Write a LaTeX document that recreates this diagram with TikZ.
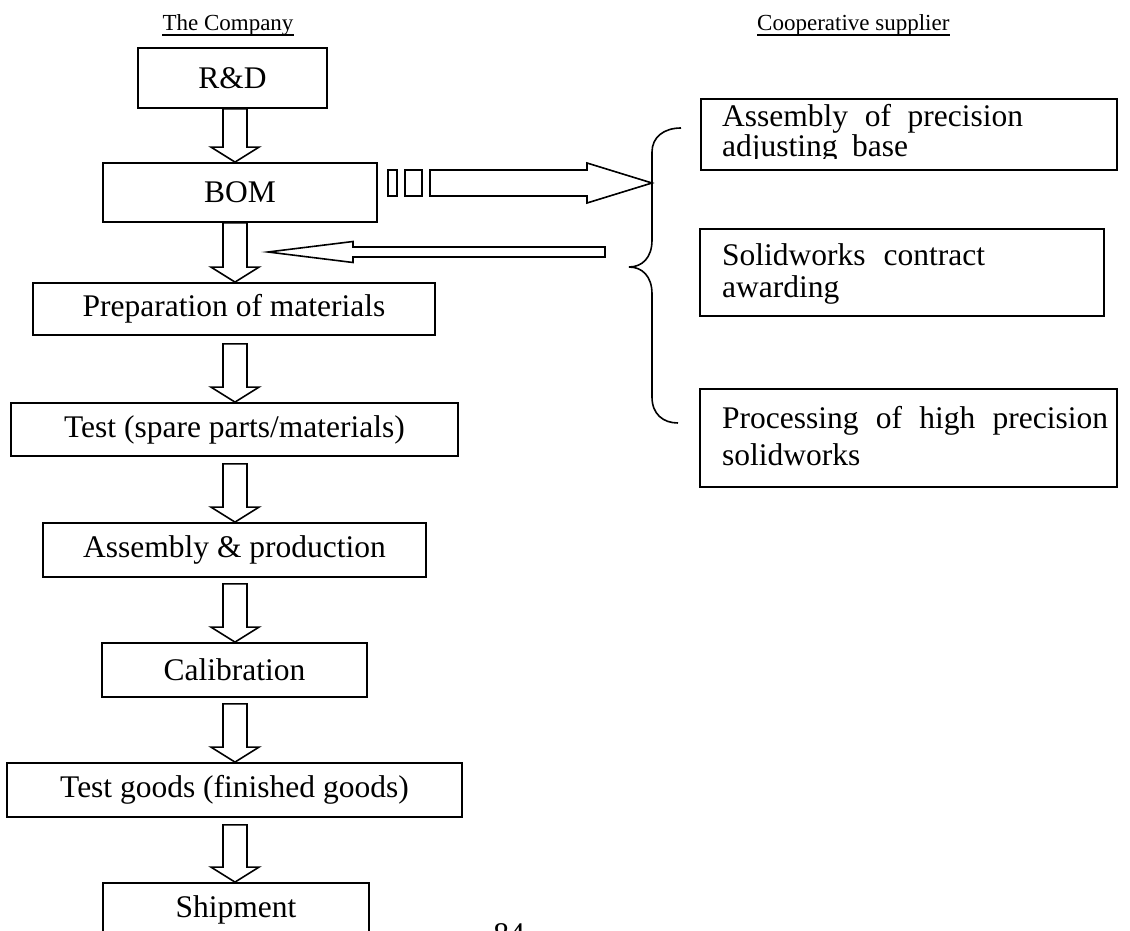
\documentclass[tikz,border=0pt]{standalone}
\usepackage{fontspec}
\setmainfont{Liberation Serif}
\usetikzlibrary{calc}
\newcommand\bdfont{\fontsize{31.5}{36}\selectfont}
\newcommand\hdfont{\fontsize{23}{28}\selectfont}
\begin{document}
\begin{tikzpicture}[x=1pt,y=-1pt,
  box/.style={draw,line width=1.8pt,inner sep=0pt,font=\bdfont,align=center},
  rbox/.style={draw,line width=1.8pt,inner sep=0pt},
  flow/.style={draw,line width=1.6pt,fill=white,line join=miter},
  hdr/.style={font=\hdfont,inner sep=0pt,anchor=base},
  txt/.style={font=\bdfont,inner sep=0pt,anchor=base west},
  brace/.style={draw,line width=1.6pt}]
\useasboundingbox (0,0) rectangle (1130,931);
% headers
\node[hdr] (hco) at (228,31) {The Company};
\draw[line width=1.5pt] ([yshift=-4pt]hco.base west) -- ([yshift=-4pt]hco.base east);
\node[hdr,anchor=base west] (hsu) at (757,31) {Cooperative supplier};
\draw[line width=1.5pt] ([yshift=-4pt]hsu.base west) -- ([yshift=-4pt]hsu.base east);
% left column
\node[box,minimum width=189pt,minimum height=60pt] (rd) at (232.5,78) {R\&D};
\node[box,minimum width=274pt,minimum height=59pt] (bom) at (240,192.5) {BOM};
\node[box,minimum width=402pt,minimum height=52pt] (prep) at (234,309) {Preparation of materials};
\node[box,minimum width=447pt,minimum height=53pt] (test) at (234.5,429.5) {Test (spare parts/materials)};
\node[box,minimum width=383pt,minimum height=54pt] (asm) at (234.5,550) {Assembly \& production};
\node[box,minimum width=265pt,minimum height=54pt] (cal) at (234.5,670) {Calibration};
\node[box,minimum width=455pt,minimum height=54pt] (tg) at (234.5,790) {Test goods (finished goods)};
\node[box,minimum width=266pt,minimum height=54pt] (ship) at (236,910) {Shipment};
% flow arrows
\coordinate (ax) at (235,0);
\newcommand\vflow[3]{%
  \path (#1.south -| ax) coordinate (fA) (#2.north -| ax) coordinate (fB);
  \draw[flow] ([shift={(-12,#3)}]fA) -- ([shift={(-12,-15)}]fB) -- ([shift={(-24,-15)}]fB) -- (fB)
    -- ([shift={(24,-15)}]fB) -- ([shift={(12,-15)}]fB) -- ([shift={(12,#3)}]fA) -- cycle;}
\vflow{rd}{bom}{0}
\vflow{bom}{prep}{0}
\vflow{prep}{test}{8}
\vflow{test}{asm}{7}
\vflow{asm}{cal}{6}
\vflow{cal}{tg}{6}
\vflow{tg}{ship}{7}
% right boxes
\node[rbox,minimum width=416pt,minimum height=71pt] (s1) at (909,134.5) {};
\node[rbox,minimum width=404pt,minimum height=87pt] (s2) at (902,272.5) {};
\node[rbox,minimum width=417pt,minimum height=98pt] (s3) at (908.5,438) {};
\begin{scope}
\clip (701,99) rectangle (1117,158.5);
\node[txt] (s1a) at (722,127) {\makebox[301pt][s]{Assembly of precision}};
\node[txt] (s1b) at (722,157) {\makebox[186pt][s]{adjusting base}};
\end{scope}
\node[txt] (s2a) at (722,265) {\makebox[263pt][s]{Solidworks contract}};
\node[txt] (s2b) at (722,297) {awarding};
\node[txt] (s3a) at (722,428) {\makebox[386pt][s]{Processing of high precision}};
\node[txt] (s3b) at (722,465) {solidworks};
% brace
\draw[brace] (681,128) .. controls (664,128) and (652,137) .. (652,152) -- (652,240)
  .. controls (652,258) and (642,267) .. (629,267)
  .. controls (642,267) and (652,276) .. (652,294) -- (652,397)
  .. controls (652,414) and (663,423) .. (678,423);
% arrow to suppliers
\coordinate (bm) at (652,183);
\draw[flow] ([shift={(-264,-13)}]bm) rectangle ([shift={(-255,13)}]bm);
\draw[flow] ([shift={(-247,-13)}]bm) rectangle ([shift={(-230,13)}]bm);
\draw[flow] ([shift={(-222,-13)}]bm) -- ([shift={(-65,-13)}]bm) -- ([shift={(-65,-20)}]bm) -- (bm)
  -- ([shift={(-65,20)}]bm) -- ([shift={(-65,13)}]bm) -- ([shift={(-222,13)}]bm) -- cycle;
% return arrow
\coordinate (rt) at (268,252);
\draw[flow] (rt) -- ([shift={(85,-10.5)}]rt) -- ([shift={(85,-5)}]rt) -- ([shift={(337,-5)}]rt)
  -- ([shift={(337,5)}]rt) -- ([shift={(85,5)}]rt) -- ([shift={(85,10.5)}]rt) -- cycle;
% page number (cut off as in the source)
\node[font=\bdfont,inner sep=0pt,anchor=base] (pg) at (509,944) {84};
\end{tikzpicture}
\end{document}
